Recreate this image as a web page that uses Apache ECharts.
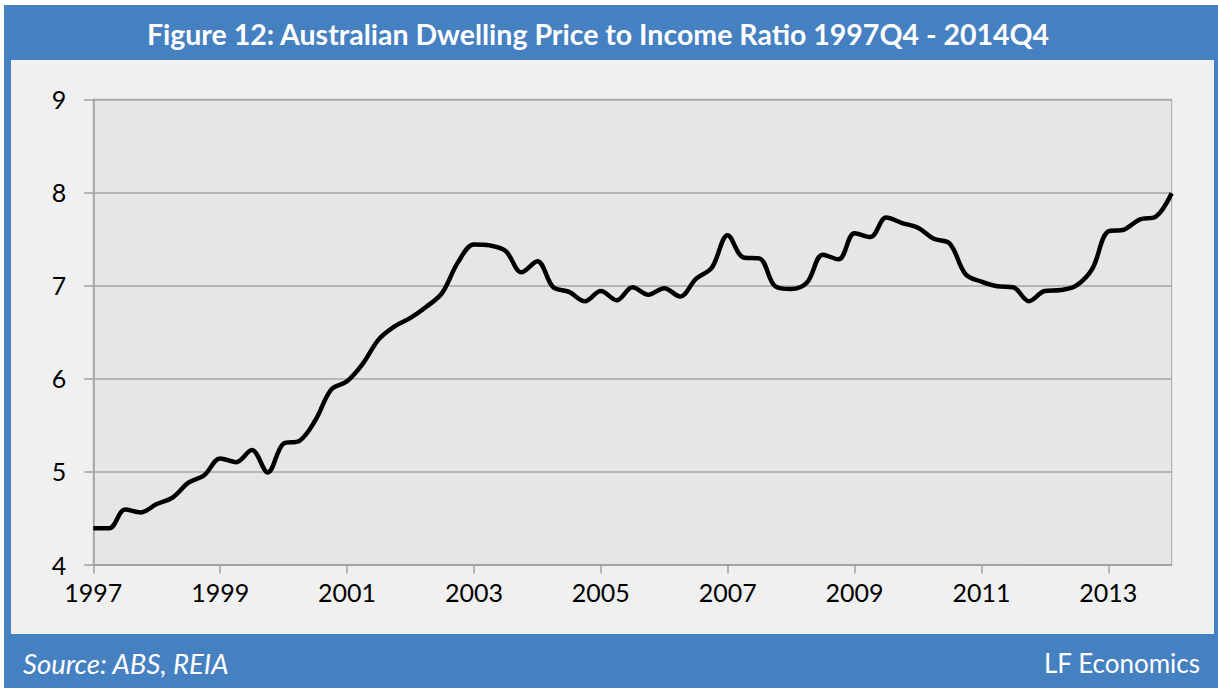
<!DOCTYPE html>
<html>
<head>
<meta charset="utf-8">
<script src="https://cdn.jsdelivr.net/npm/echarts@6/dist/echarts.min.js"></script>
<style>
  html, body { margin: 0; padding: 0; background: #ffffff; }
  #chart { width: 1218px; height: 688px; }
</style>
</head>
<body>
<div id="chart"></div>
<script>
// Quarterly categories 1997Q4 .. 2014Q4
var quarters = ['1997Q4'];
for (var yy = 1998; yy <= 2014; yy++) {
  quarters.push(yy + 'Q1', yy + 'Q2', yy + 'Q3', yy + 'Q4');
}

// Price to income ratio
var ratio = [
  4.39, 4.39, 4.59, 4.56, 4.65, 4.72, 4.88, 4.96,
  5.14, 5.10, 5.23, 4.99, 5.30, 5.33, 5.55, 5.88,
  5.97, 6.16, 6.42, 6.56, 6.65, 6.77, 6.92, 7.25,
  7.44, 7.43, 7.37, 7.14, 7.26, 6.98, 6.93, 6.83,
  6.94, 6.84, 6.98, 6.90, 6.97, 6.88, 7.07, 7.19,
  7.54, 7.30, 7.29, 6.99, 6.96, 7.03, 7.33, 7.28,
  7.56, 7.52, 7.73, 7.67, 7.62, 7.50, 7.45, 7.12,
  7.04, 6.99, 6.98, 6.83, 6.94, 6.95, 7.00, 7.18,
  7.58, 7.60, 7.71, 7.74, 7.99
];

var titleText = 'Figure 12: Australian Dwelling Price to Income Ratio 1997Q4 - 2014Q4';
var sourceText = 'Source: ABS, REIA';
var creditText = 'LF Economics';

var FONT = 'Lato, "Open Sans", sans-serif';
var BLUE = '#4580c1';

var chart = echarts.init(document.getElementById('chart'), null, { renderer: 'svg' });
chart.setOption({
  animation: false,
  backgroundColor: '#ffffff',
  graphic: [
    { type: 'rect', z: -20, silent: true, shape: { x: 4, y: 5, width: 1214, height: 683 }, style: { fill: BLUE } },
    { type: 'rect', z: -19, silent: true, shape: { x: 11, y: 60, width: 1203, height: 574 }, style: { fill: '#f0f0f0' } },
    { type: 'text', z: 100, x: 598, y: 34, style: { text: titleText, fill: '#ffffff', font: 'bold 28.5px ' + FONT, textAlign: 'center', textVerticalAlign: 'middle' } },
    { type: 'text', z: 100, x: 23, y: 663, style: { text: sourceText, fill: '#ffffff', font: 'italic 27.5px ' + FONT, textAlign: 'left', textVerticalAlign: 'middle' } },
    { type: 'text', z: 100, x: 1200, y: 663, style: { text: creditText, fill: '#ffffff', font: '26px ' + FONT, textAlign: 'right', textVerticalAlign: 'middle' } }
  ],
  grid: {
    left: 93.3, top: 99.3, right: 46.3, bottom: 123.5,
    show: true, backgroundColor: '#e6e6e6', borderColor: '#a6a6a6', borderWidth: 1
  },
  xAxis: {
    type: 'category',
    data: quarters,
    boundaryGap: false,
    axisLine: { show: true, lineStyle: { color: '#a0a0a0', width: 1.5 } },
    axisTick: { show: true, interval: 7, length: 9, lineStyle: { color: '#a0a0a0', width: 1.5 } },
    axisLabel: {
      interval: 7, margin: 15, color: '#000000', fontSize: 25, fontFamily: FONT,
      formatter: function (v) { return v.slice(0, 4); }
    },
    splitLine: { show: false }
  },
  yAxis: {
    type: 'value',
    min: 4, max: 9, interval: 1,
    axisLine: { show: true, lineStyle: { color: '#a0a0a0', width: 1.5 } },
    axisTick: { show: true, length: 9, lineStyle: { color: '#a0a0a0', width: 1.5 } },
    axisLabel: { margin: 27, color: '#000000', fontSize: 25, fontFamily: FONT },
    splitLine: { show: true, lineStyle: { color: '#a6a6a6', width: 1.5 } }
  },
  series: [{
    type: 'line',
    data: ratio,
    smooth: 0.35,
    showSymbol: false,
    lineStyle: { color: '#000000', width: 4.5 }
  }]
});
</script>
</body>
</html>
